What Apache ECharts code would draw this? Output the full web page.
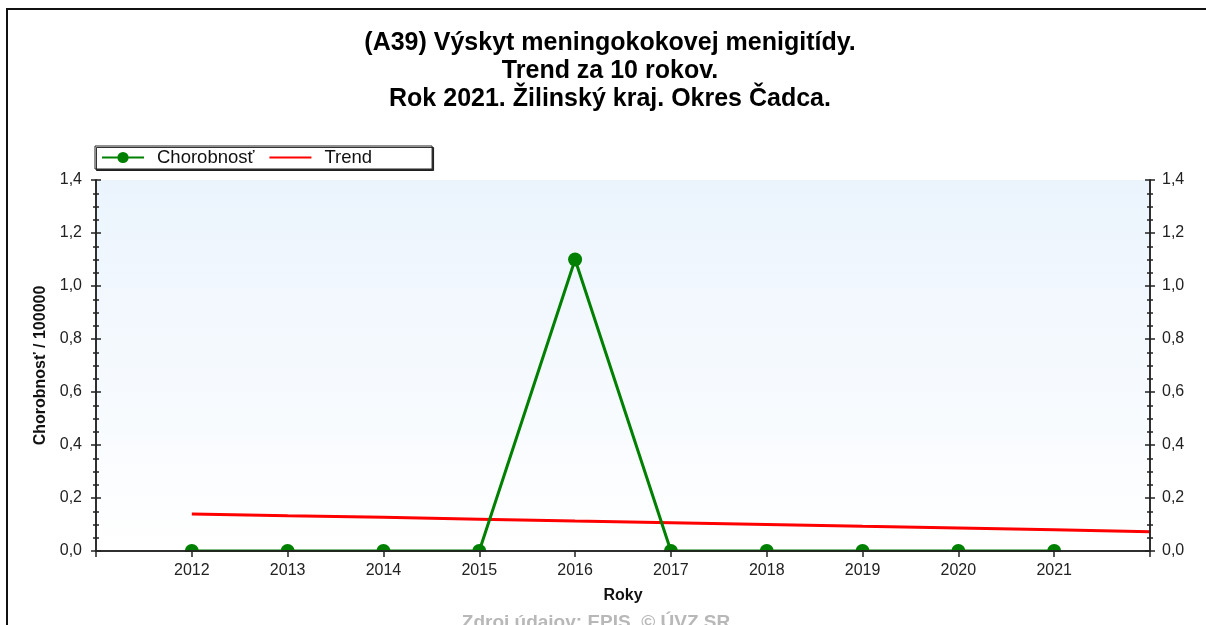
<!DOCTYPE html>
<html><head><meta charset="utf-8">
<script src="https://cdn.jsdelivr.net/npm/echarts@6/dist/echarts.min.js"></script>
<style>html,body{margin:0;padding:0;background:#fff}#c{width:1206px;height:625px}</style>
</head><body><div id="c"></div>
<script>
const titleLines = ['(A39) Výskyt meningokokovej menigitídy.', 'Trend za 10 rokov.', 'Rok 2021. Žilinský kraj. Okres Čadca.'];
const years = [2012, 2013, 2014, 2015, 2016, 2017, 2018, 2019, 2020, 2021];
const chorobnost = [0, 0, 0, 0, 1.1, 0, 0, 0, 0, 0];
const trendYears = [2012, 2013, 2014, 2015, 2016, 2017, 2018, 2019, 2020, 2021, 2022];
const trendValues = [0.14, 0.133, 0.127, 0.12, 0.113, 0.107, 0.10, 0.093, 0.087, 0.08, 0.073];
const xRange = [2011, 2022];
const yRange = [0, 1.4];
const yStep = 0.2;
const seriesNames = ['Chorobnosť', 'Trend'];
const yAxisName = 'Chorobnosť / 100000';
const xAxisName = 'Roky';
const sourceText = 'Zdroj údajov: EPIS, © ÚVZ SR';

const FONT = "'Liberation Sans', Arial, sans-serif";
const gridL = 96, gridR = 1150, gridT = 180, gridB = 551;
const W = 1206, H = 625;
const axisCol = '#222';
const fmtY = v => v.toFixed(1).replace('.', ',');

function yAx(pos, inside, labels) {
  return {
    type: 'value', position: pos, min: yRange[0], max: yRange[1], interval: yStep,
    axisLine: { show: true, lineStyle: { color: axisCol, width: 1.5 } },
    axisTick: { show: true, inside: inside, length: 5, lineStyle: { color: axisCol, width: 1.5 } },
    minorTick: { show: true, splitNumber: 4, length: 3, lineStyle: { color: axisCol, width: 1.5 } },
    splitLine: { show: false },
    axisLabel: { show: labels, formatter: fmtY, fontFamily: FONT, fontSize: 16, color: '#222', margin: pos === 'left' ? 14 : 12 },
    name: (labels && pos === 'left') ? yAxisName : '',
    nameLocation: 'middle', nameRotate: 90, nameGap: 43,
    nameTextStyle: { fontFamily: FONT, fontSize: 16, fontWeight: 'bold', color: '#111' },
    z: 5
  };
}

const chart = echarts.init(document.getElementById('c'), null, { renderer: 'canvas' });
chart.setOption({
  animation: false,
  backgroundColor: '#fff',
  title: {
    text: titleLines.join('\n'), left: 610, textAlign: 'center', top: 29, padding: 0,
    textStyle: { fontFamily: FONT, fontSize: 25, fontWeight: 'bold', color: '#000', lineHeight: 28 }
  },
  legend: {
    data: [{ name: seriesNames[0] }, { name: seriesNames[1], itemStyle: { opacity: 0 } }],
    left: 95, top: 146, orient: 'horizontal',
    backgroundColor: '#fff', borderColor: '#222', borderWidth: 1,
    shadowColor: 'rgba(0,0,0,0.8)', shadowOffsetX: 1.5, shadowOffsetY: 1.5, shadowBlur: 0,
    padding: [2, 60, 2, 6], itemWidth: 42, itemHeight: 14, itemGap: 14,
    textStyle: { fontFamily: FONT, fontSize: 18.5, color: '#111', padding: [0, 0, 0, 8] }
  },
  grid: {
    left: gridL, right: W - gridR, top: gridT, bottom: H - gridB, show: true, borderWidth: 0,
    backgroundColor: new echarts.graphic.LinearGradient(0, 0, 0, 1, [
      { offset: 0, color: '#ebf4fd' }, { offset: 1, color: '#ffffff' }
    ])
  },
  xAxis: [{
    type: 'value', position: 'bottom', min: xRange[0], max: xRange[1], interval: 1,
    axisLine: { show: true, lineStyle: { color: axisCol, width: 1.5 } },
    axisTick: { show: true, length: 6, lineStyle: { color: axisCol, width: 1.5 } },
    splitLine: { show: false },
    axisLabel: { showMinLabel: false, showMaxLabel: false, formatter: v => String(v), fontFamily: FONT, fontSize: 16, color: '#222', margin: 12 },
    name: xAxisName, nameLocation: 'middle', nameGap: 37,
    nameTextStyle: { fontFamily: FONT, fontSize: 16, fontWeight: 'bold', color: '#111' },
    z: 5
  }, {
    type: 'value', position: 'top', min: xRange[0], max: xRange[1], interval: 1,
    axisLine: { show: true, lineStyle: { color: axisCol, width: 1.5 } },
    axisTick: { show: true, inside: true, length: 6, lineStyle: { color: axisCol, width: 1.5 } },
    splitLine: { show: false }, axisLabel: { show: false }, z: 5
  }],
  yAxis: [yAx('left', false, true), yAx('left', true, false), yAx('right', false, true), yAx('right', true, false)],
  graphic: [
    { type: 'rect', z: 4, shape: { x: gridL + 1, y: gridB + 1, width: gridR - gridL - 2, height: 12 }, style: { fill: '#fff' }, silent: true },
    { type: 'rect', z: 10, shape: { x: 7, y: 9, width: 1300, height: 700 }, style: { fill: 'none', stroke: '#111', lineWidth: 2 }, silent: true },
    { type: 'text', z: 10, x: 596, y: 613, style: { text: sourceText, fontFamily: FONT, fontSize: 19, fontWeight: 'bold', fill: '#b8b8b8', textAlign: 'center' } }
  ],
  series: [{
    name: seriesNames[0], type: 'line', xAxisIndex: 0, yAxisIndex: 0, z: 3, clip: false,
    data: years.map((y, i) => [y, chorobnost[i]]),
    symbol: 'circle', symbolSize: 14, showSymbol: true,
    lineStyle: { color: '#008000', width: 3 }, itemStyle: { color: '#008000' }
  }, {
    name: seriesNames[1], type: 'line', xAxisIndex: 0, yAxisIndex: 0, z: 2,
    data: trendYears.map((y, i) => [y, trendValues[i]]),
    symbol: 'none',
    lineStyle: { color: '#ff0000', width: 3 }, itemStyle: { color: '#ff0000' }
  }]
});
</script></body></html>
